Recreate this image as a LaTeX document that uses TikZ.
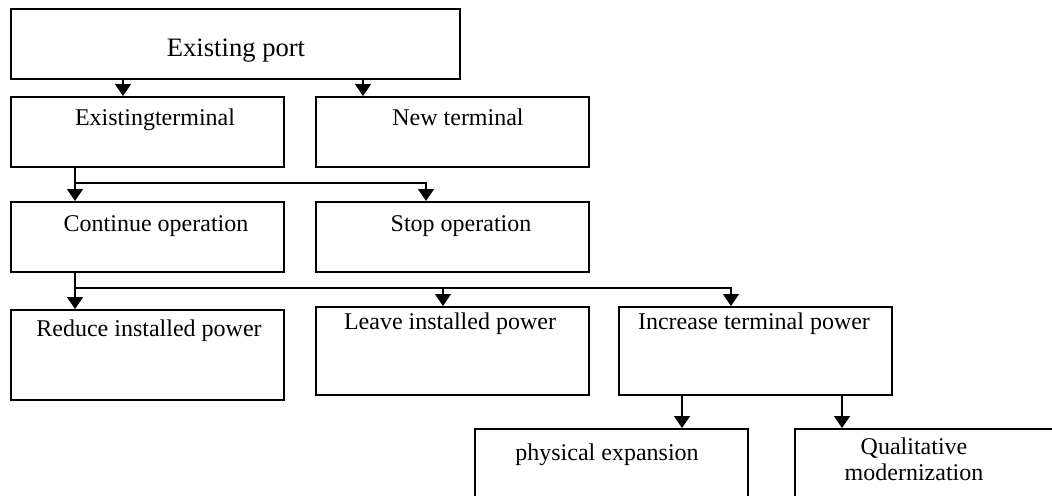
\documentclass[tikz,border=0pt]{standalone}
\usepackage{fontspec}
\setmainfont{Liberation Serif}
\usetikzlibrary{arrows.meta, positioning}

\tikzset{
	box/.style={draw, line width=0.75pt, minimum width=136.5pt, minimum height=35pt, inner sep=0pt, anchor=north west},
	txt/.style={font=\fontsize{12}{13}\selectfont, anchor=base, inner sep=0pt},
	wire/.style={line width=0.6pt},
	arr/.style={wire, -{Triangle[length=6pt,width=8pt]}},
}

\begin{document}
\begin{tikzpicture}[x=0.5pt, y=-0.5pt]

	\useasboundingbox (0,0) rectangle (1052,495);
	\clip (0,0) rectangle (1052,495);

	% boxes
	\node[box, minimum width=224.5pt] (port) at (10,8) {};
	\node[box] (oldterm) at (10,96) {};
	\node[box] (newterm) at (315,96) {};
	\node[box] (cont) at (10,201) {};
	\node[box] (stop) at (315,201) {};
	\node[box, minimum height=45pt] (reduce) at (10,309) {};
	\node[box, minimum height=44pt] (leave) at (315,306) {};
	\node[box, minimum height=44pt] (incr) at (618,306) {};
	\node[box, minimum height=50pt] (phys) at (474,428) {};
	\node[box, minimum height=50pt] (qual) at (794,428) {};

	% texts
	\node[txt, font=\fontsize{13.3}{16}\selectfont] (portT) at (236,56) {Existing port};
	\node[txt] (oldtermT) at (155,125) {Existingterminal};
	\node[txt] (newtermT) at (458,125) {New terminal};
	\node[txt] (contT) at (156,231) {Continue operation};
	\node[txt] (stopT) at (461,231) {Stop operation};
	\node[txt] (reduceT) at (149,336) {Reduce installed power};
	\node[txt] (leaveT) at (450,329) {Leave installed power};
	\node[txt] (incrT) at (754,329) {Increase terminal power};
	\node[txt] (physT) at (607,460) {physical expansion};
	\node[txt, align=center, anchor=north] (qualT) at (914,437) {Qualitative\\modernization};

	% connectors
	\coordinate (a1) at (123,0);
	\coordinate (a2) at (363,0);
	\draw[arr] (port.south -| a1) -- (oldterm.north -| a1);
	\draw[arr] (port.south -| a2) -- (newterm.north -| a2);

	\coordinate (j1) at (75,183);
	\coordinate (j1r) at (426,183);
	\draw[wire] (oldterm.south -| j1) -- (j1);
	\draw[arr] (j1) -- (cont.north -| j1);
	\draw[arr] (j1) -- (j1r) -- (stop.north -| j1r);

	\coordinate (j2) at (75,288);
	\coordinate (j2m) at (443,288);
	\coordinate (j2r) at (731,288);
	\draw[wire] (cont.south -| j2) -- (j2);
	\draw[arr] (j2) -- (reduce.north -| j2);
	\draw[arr] (j2m) -- (leave.north -| j2m);
	\draw[arr] (j2) -- (j2r) -- (incr.north -| j2r);

	\coordinate (b1) at (682,0);
	\coordinate (b2) at (842,0);
	\draw[arr] (incr.south -| b1) -- (phys.north -| b1);
	\draw[arr] (incr.south -| b2) -- (qual.north -| b2);
\end{tikzpicture}
\end{document}
